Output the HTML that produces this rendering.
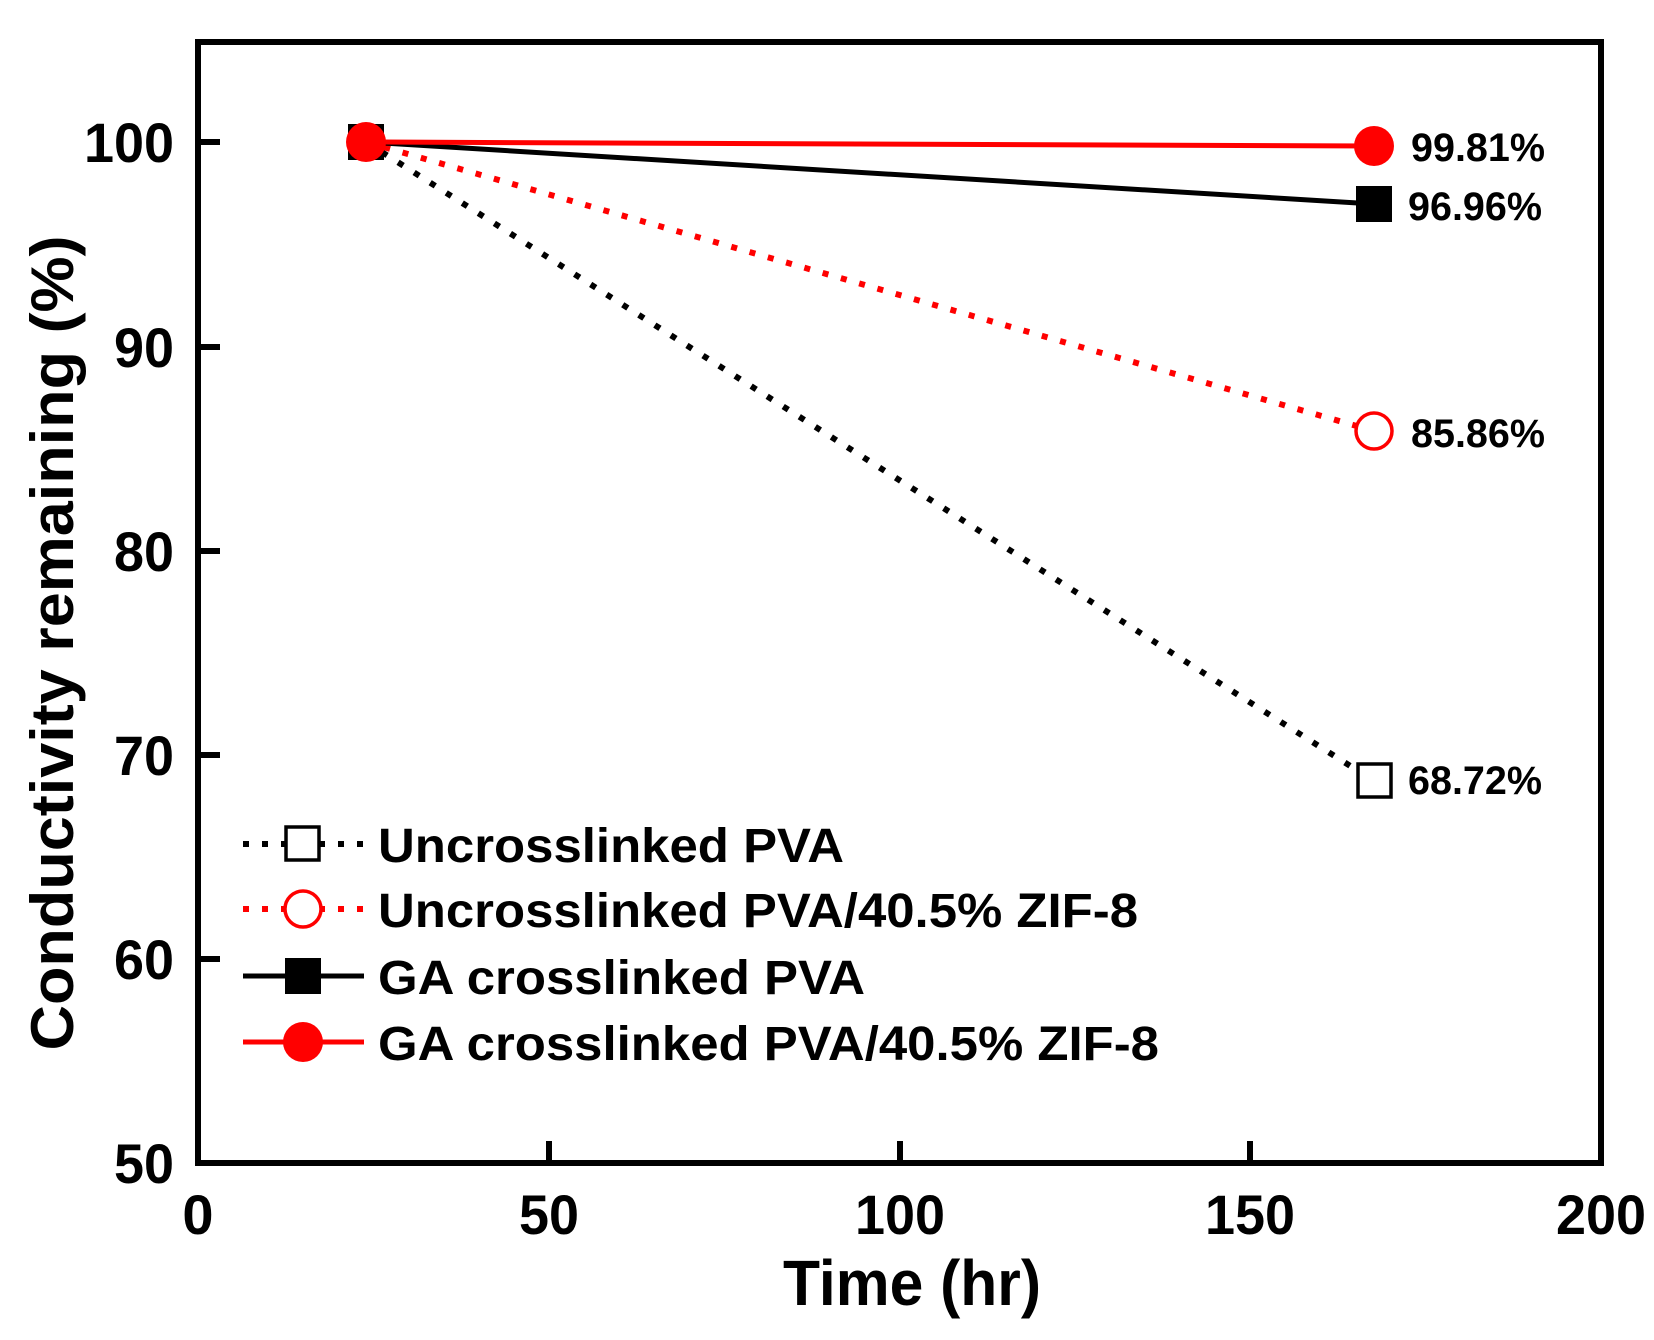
<!DOCTYPE html>
<html><head><style>body{margin:0;background:#fff}svg{display:block}text{font-family:"Liberation Sans",Arial,sans-serif;font-weight:bold;fill:#000}</style></head>
<body>
<svg width="1654" height="1340" viewBox="0 0 1654 1340" xmlns="http://www.w3.org/2000/svg">
<g stroke="#000" stroke-width="6" fill="none">
<rect x="198" y="42" width="1403" height="1121"/>
<line x1="198" y1="142" x2="220" y2="142"/><line x1="198" y1="347" x2="220" y2="347"/>
<line x1="198" y1="551" x2="220" y2="551"/><line x1="198" y1="755" x2="220" y2="755"/>
<line x1="198" y1="959" x2="220" y2="959"/>
<line x1="549" y1="1163" x2="549" y2="1141"/><line x1="900" y1="1163" x2="900" y2="1141"/>
<line x1="1250" y1="1163" x2="1250" y2="1141"/>
</g>
<g font-size="56" text-anchor="end">
<text x="174" y="162" textLength="90" lengthAdjust="spacingAndGlyphs">100</text>
<text x="174" y="367" textLength="60" lengthAdjust="spacingAndGlyphs">90</text>
<text x="174" y="571" textLength="60" lengthAdjust="spacingAndGlyphs">80</text>
<text x="174" y="775" textLength="60" lengthAdjust="spacingAndGlyphs">70</text>
<text x="174" y="979" textLength="60" lengthAdjust="spacingAndGlyphs">60</text>
<text x="174" y="1183" textLength="60" lengthAdjust="spacingAndGlyphs">50</text>
</g>
<g font-size="56" text-anchor="middle">
<text x="198" y="1234">0</text>
<text x="549" y="1234" textLength="60" lengthAdjust="spacingAndGlyphs">50</text>
<text x="900" y="1234" textLength="90" lengthAdjust="spacingAndGlyphs">100</text>
<text x="1250" y="1234" textLength="90" lengthAdjust="spacingAndGlyphs">150</text>
<text x="1601" y="1234" textLength="90" lengthAdjust="spacingAndGlyphs">200</text>
</g>
<text x="912" y="1305" font-size="64" text-anchor="middle" textLength="258" lengthAdjust="spacingAndGlyphs">Time (hr)</text>
<text transform="translate(73,643) rotate(-90)" font-size="60" text-anchor="middle" textLength="815" lengthAdjust="spacingAndGlyphs">Conductivity remaining (%)</text>
<line x1="366" y1="142" x2="1374" y2="781" stroke="#000" stroke-width="6" stroke-dasharray="6,13"/>
<line x1="366" y1="142" x2="1374" y2="431" stroke="#f00" stroke-width="6" stroke-dasharray="6,13"/>
<line x1="366" y1="142" x2="1374" y2="204" stroke="#000" stroke-width="5"/>
<line x1="366" y1="142" x2="1374" y2="146" stroke="#f00" stroke-width="5"/>
<rect x="348" y="124" width="36" height="36" fill="#000"/>
<circle cx="366" cy="142" r="20" fill="#f00"/>
<rect x="1358" y="764" width="33" height="33" fill="#fff" stroke="#000" stroke-width="3.5"/>
<circle cx="1374" cy="431" r="18" fill="#fff" stroke="#f00" stroke-width="3.5"/>
<rect x="1356" y="186" width="36" height="36" fill="#000"/>
<circle cx="1374" cy="146" r="20" fill="#f00"/>
<g font-size="40">
<text x="1411" y="161" textLength="134" lengthAdjust="spacingAndGlyphs">99.81%</text>
<text x="1408" y="220" textLength="134" lengthAdjust="spacingAndGlyphs">96.96%</text>
<text x="1411" y="447" textLength="134" lengthAdjust="spacingAndGlyphs">85.86%</text>
<text x="1408" y="794" textLength="134" lengthAdjust="spacingAndGlyphs">68.72%</text>
</g>
<line x1="243" y1="844" x2="364" y2="844" stroke="#000" stroke-width="6" stroke-dasharray="6,13"/>
<rect x="286" y="827" width="33" height="33" fill="#fff" stroke="#000" stroke-width="3.5"/>
<line x1="243" y1="909" x2="364" y2="909" stroke="#f00" stroke-width="6" stroke-dasharray="6,13"/>
<circle cx="303" cy="909" r="18" fill="#fff" stroke="#f00" stroke-width="3.5"/>
<line x1="243" y1="976" x2="364" y2="976" stroke="#000" stroke-width="5"/>
<rect x="285" y="958" width="36" height="36" fill="#000"/>
<line x1="243" y1="1042" x2="364" y2="1042" stroke="#f00" stroke-width="5"/>
<circle cx="303" cy="1042" r="20" fill="#f00"/>
<g font-size="48">
<text x="378" y="862" textLength="466" lengthAdjust="spacingAndGlyphs">Uncrosslinked PVA</text>
<text x="378" y="927" textLength="760" lengthAdjust="spacingAndGlyphs">Uncrosslinked PVA/40.5% ZIF-8</text>
<text x="378" y="994" textLength="487" lengthAdjust="spacingAndGlyphs">GA crosslinked PVA</text>
<text x="378" y="1060" textLength="781" lengthAdjust="spacingAndGlyphs">GA crosslinked PVA/40.5% ZIF-8</text>
</g>
</svg>
</body></html>
